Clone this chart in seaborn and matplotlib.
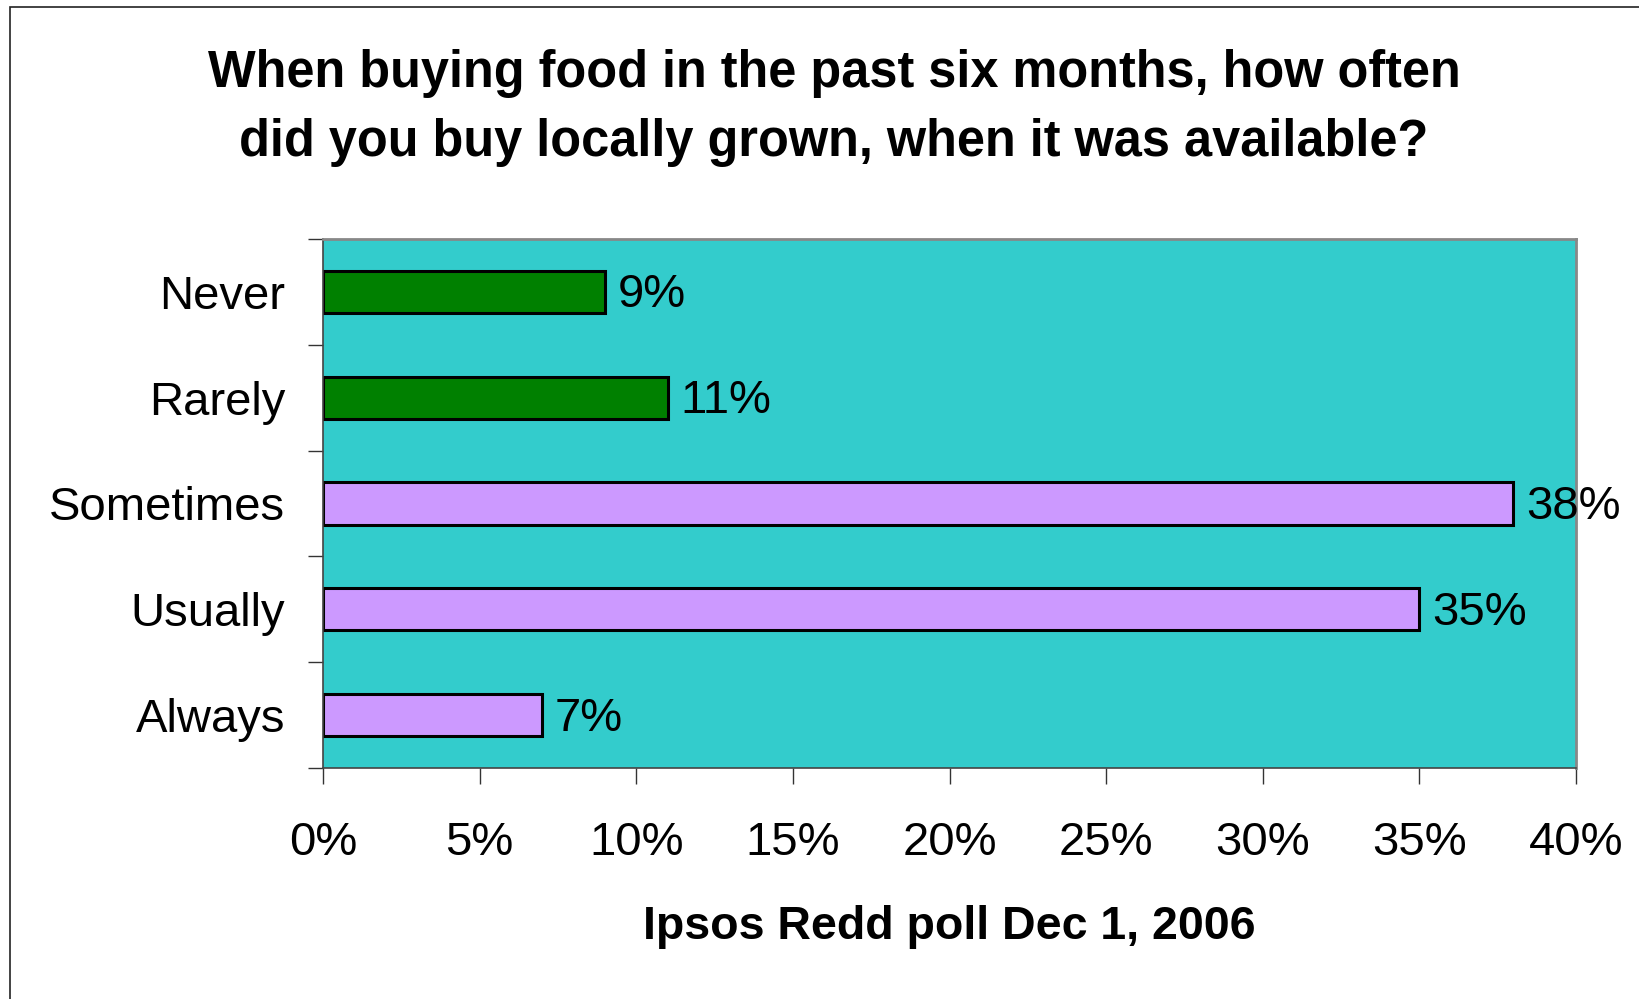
import matplotlib
matplotlib.use("Agg")
import matplotlib.pyplot as plt
import seaborn as sns
import pandas as pd
from matplotlib.patches import Rectangle
from matplotlib.ticker import FixedLocator, PercentFormatter

categories = ["Never", "Rarely", "Sometimes", "Usually", "Always"]
values = [9, 11, 38, 35, 7]
bar_colors = ["#008000", "#008000", "#CC99FF", "#CC99FF", "#CC99FF"]
x_ticks = [0, 5, 10, 15, 20, 25, 30, 35, 40]
title = "When buying food in the past six months, how often\ndid you buy locally grown, when it was available?"
xlabel = "Ipsos Redd poll Dec 1, 2006"

sns.set_theme(style="white")
plt.rcParams["font.family"] = ["Liberation Sans", "DejaVu Sans"]

df = pd.DataFrame({"category": categories, "value": values})

W, H = 1639, 999
fig = plt.figure(figsize=(W / 100, H / 100), dpi=100)
ax = fig.add_axes([323 / W, 1 - 768 / H, (1576 - 323) / W, (768 - 239) / H])
ax.set_facecolor("#33CCCC")

sns.barplot(data=df, x="value", y="category", hue="category",
            palette=bar_colors, orient="h", width=0.4, legend=False,
            edgecolor="black", linewidth=2.2, ax=ax, saturation=1)

ax.set_xlim(0, 40)
ax.set_ylim(4.5, -0.5)
ax.xaxis.set_major_locator(FixedLocator(x_ticks))
ax.xaxis.set_major_formatter(PercentFormatter(decimals=0))

ax.tick_params(axis="x", which="major", direction="out", length=11.5, width=1,
               color="#333333", labelsize=34, pad=26.5, bottom=True)
ax.tick_params(axis="y", which="major", length=0, labelsize=34, pad=27, left=True)
ax.yaxis.set_minor_locator(FixedLocator([-0.5, 0.5, 1.5, 2.5, 3.5, 4.5]))
ax.tick_params(axis="y", which="minor", direction="out", length=11, width=1,
               color="#333333", left=True)

for lbl in ax.get_xticklabels() + ax.get_yticklabels():
    lbl.set_color("black")

for side in ["left", "bottom"]:
    ax.spines[side].set_color("#444444")
    ax.spines[side].set_linewidth(1.2)
for side in ["top", "right"]:
    ax.spines[side].set_color("#888888")
    ax.spines[side].set_linewidth(2)

for cont in ax.containers:
    for rect, v in zip(cont.patches, cont.datavalues):
        ax.annotate(f"{v:.0f}%", xy=(rect.get_x() + rect.get_width(),
                                     rect.get_y() + rect.get_height() / 2),
                    xytext=(9, -2.5), textcoords="offset points",
                    ha="left", va="center", fontsize=34, color="black",
                    annotation_clip=False)

ax.set_ylabel("")
ax.set_xlabel(xlabel, fontsize=33.5, fontweight="bold", labelpad=29, color="black")

fig.text(834 / W, 1 - 108 / H, title, ha="center", va="center",
         fontsize=36.4, fontweight="bold", linespacing=1.55, color="black")

fig.patches.append(Rectangle((10 / W, -0.1), 1.2, 1.1 - 7 / H,
                             transform=fig.transFigure, fill=False,
                             edgecolor="#222222", linewidth=1.2, zorder=10))

fig.savefig("out.png", dpi=100)
